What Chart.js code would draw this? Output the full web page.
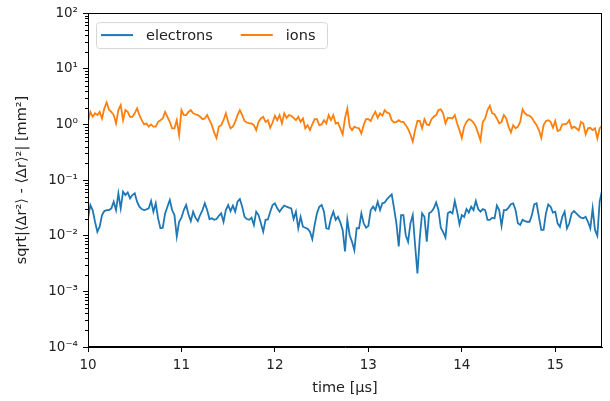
<!DOCTYPE html>
<html>
<head>
<meta charset="utf-8">
<script src="https://cdn.jsdelivr.net/npm/chart.js@4"></script>
<style>
  html, body { margin: 0; padding: 0; background: #fff; }
  #wrap { width: 610px; height: 401px; }
</style>
</head>
<body>
<div id="wrap"><canvas id="grafico" width="610" height="401"></canvas></div>
<script>
// Amostragem no tempo (µs)
const tInicio = 10;
const dt = 0.025;

// Séries
const electrons = [
  0.0205, 0.0356, 0.0289, 0.0178, 0.0118, 0.0145, 0.0235, 0.0277, 0.0289, 0.0289, 0.0310, 0.0408, 0.0289,
  0.0577, 0.0310, 0.0617, 0.0538, 0.0601, 0.0469, 0.0538, 0.0577, 0.0408, 0.0332, 0.0301, 0.0289, 0.0298,
  0.0310, 0.0420, 0.0270, 0.0382, 0.0205, 0.0136, 0.0139, 0.0252, 0.0332, 0.0438, 0.0289,
  0.0235, 0.0097, 0.0178, 0.0211, 0.0289, 0.0356, 0.0243, 0.0183, 0.0270, 0.0211, 0.0183, 0.0235, 0.0289,
  0.0382, 0.0289, 0.0199, 0.0205, 0.0193, 0.0199, 0.0228, 0.0252, 0.0178, 0.0289, 0.0356, 0.0277, 0.0348,
  0.0270, 0.0408, 0.0455, 0.0332, 0.0218, 0.0199, 0.0193, 0.0211, 0.0156, 0.0270, 0.0235,
  0.0167, 0.0118, 0.0193, 0.0196, 0.0270, 0.0356, 0.0382, 0.0310, 0.0270, 0.0310, 0.0348, 0.0332, 0.0320,
  0.0310, 0.0199, 0.0270, 0.0136, 0.0218, 0.0145, 0.0139, 0.0133, 0.0118, 0.0087, 0.0156, 0.0252, 0.0332,
  0.0356, 0.0270, 0.0136, 0.0133, 0.0205, 0.0270, 0.0193, 0.0218, 0.0173, 0.0127, 0.0052,
  0.0193, 0.0102, 0.0078, 0.0055, 0.0136, 0.0136, 0.0252, 0.0167, 0.0139, 0.0150, 0.0289, 0.0332, 0.0289,
  0.0408, 0.0289, 0.0382, 0.0395, 0.0455, 0.0503, 0.0554, 0.0310, 0.0167, 0.0064, 0.0235, 0.0235, 0.0102,
  0.0078, 0.0167, 0.0235, 0.0068, 0.0021, 0.0090, 0.0252, 0.0218, 0.0078, 0.0252, 0.0270,
  0.0310, 0.0395, 0.0289, 0.0139, 0.0116, 0.0093, 0.0252, 0.0270, 0.0252, 0.0420, 0.0270, 0.0160, 0.0235,
  0.0218, 0.0301, 0.0260, 0.0332, 0.0289, 0.0420, 0.0301, 0.0270, 0.0301, 0.0289, 0.0193, 0.0193, 0.0211,
  0.0205, 0.0348, 0.0289, 0.0150, 0.0289, 0.0289, 0.0320, 0.0368, 0.0382, 0.0289, 0.0167,
  0.0156, 0.0193, 0.0183, 0.0178, 0.0178, 0.0235, 0.0365, 0.0382, 0.0218, 0.0127, 0.0127, 0.0252, 0.0365,
  0.0332, 0.0260, 0.0270, 0.0167, 0.0145, 0.0218, 0.0270, 0.0136, 0.0167, 0.0252, 0.0277, 0.0252, 0.0228,
  0.0211, 0.0205, 0.0218, 0.0178, 0.0136, 0.0310, 0.0127, 0.0100, 0.0408, 0.0636
];

const ions = [
  1.11, 1.68, 1.37, 1.58, 1.47, 1.68, 1.28, 1.94, 2.48, 1.81, 1.68, 1.47, 1.04,
  1.81, 2.22, 1.19, 1.81, 1.68, 1.37, 1.37, 1.58, 1.94, 1.47, 1.19, 1.00, 1.04,
  0.91, 1.00, 0.91, 0.91, 1.11, 1.19, 1.28, 1.68, 1.37, 1.11, 0.85,
  0.85, 1.19, 0.64, 1.81, 1.47, 1.47, 1.68, 1.81, 1.58, 1.52, 1.47, 1.37, 1.24,
  1.28, 1.47, 1.19, 0.97, 0.72, 0.57, 0.91, 0.97, 1.19, 1.58, 1.11, 0.85, 0.91,
  1.11, 1.47, 1.81, 1.47, 1.15, 1.08, 1.04, 1.04, 0.97, 0.79, 1.11,
  1.28, 1.37, 1.11, 1.19, 0.87, 1.08, 1.43, 1.19, 1.47, 1.04, 1.58, 1.31, 1.47,
  1.43, 1.31, 1.19, 1.37, 1.11, 1.28, 0.85, 0.97, 0.79, 1.00, 1.24, 1.24, 0.97,
  1.00, 1.19, 1.04, 1.47, 1.19, 1.47, 1.04, 1.08, 0.85, 0.66, 1.30,
  1.94, 0.91, 0.79, 0.91, 0.87, 0.85, 0.69, 0.97, 1.24, 1.24, 1.15, 1.43, 1.68,
  1.31, 1.58, 1.43, 1.81, 1.63, 1.58, 1.19, 1.08, 1.11, 1.19, 1.11, 1.11, 0.97,
  0.83, 0.66, 0.49, 0.79, 1.15, 1.15, 0.85, 1.24, 1.00, 0.97, 1.24,
  1.37, 1.47, 1.81, 1.87, 1.58, 1.04, 1.31, 1.31, 1.28, 1.47, 1.04, 0.79, 0.57,
  0.91, 1.11, 1.24, 1.19, 1.08, 0.91, 0.69, 0.52, 1.11, 1.28, 1.81, 2.16, 1.58,
  1.52, 1.28, 1.04, 1.11, 1.47, 1.28, 0.91, 0.72, 0.97, 0.85, 0.91,
  1.11, 1.87, 1.58, 1.47, 1.43, 1.31, 1.11, 0.97, 0.79, 0.57, 0.97, 1.15, 1.19,
  1.11, 0.87, 1.15, 0.76, 0.79, 1.00, 1.00, 1.04, 1.19, 0.85, 0.91, 0.85, 0.78,
  1.11, 1.04, 0.66, 0.85, 0.87, 0.79, 0.85, 0.56, 0.85, 0.95
];

const xTicks = [10, 11, 12, 13, 14, 15];
const yDecadas = [-4, -3, -2, -1, 0, 1, 2];
const yLabels = ['10⁻⁴', '10⁻³', '10⁻²', '10⁻¹', '10⁰', '10¹', '10²'];

const tempos = electrons.map((_, i) => +(tInicio + i * dt).toFixed(3));
const pontos = serie => serie.map((v, i) => ({ x: tempos[i], y: v }));

const fonte = 'DejaVu Sans';

// Moldura completa + ticks menores + legenda dentro do gráfico
const extras = {
  id: 'extras',
  afterDraw(chart) {
    const { ctx, chartArea: a } = chart;
    const y = chart.scales.y;
    ctx.save();
    ctx.strokeStyle = '#000';
    ctx.lineWidth = 1;
    // ticks menores
    ctx.beginPath();
    for (let d = -4; d < 2; d++) {
      for (let m = 2; m <= 9; m++) {
        const py = Math.round(y.getPixelForValue(m * Math.pow(10, d))) + 0.5;
        ctx.moveTo(a.left - 3, py);
        ctx.lineTo(a.left, py);
      }
    }
    ctx.stroke();
    // moldura
    ctx.strokeRect(Math.round(a.left) + 0.5, Math.round(a.top) + 0.5,
                   Math.round(a.right - a.left) - 1, Math.round(a.bottom - a.top) - 1);

    // legenda
    const lx = a.left + 8, ly = a.top + 9, lw = 231, lh = 26;
    ctx.fillStyle = 'rgba(255,255,255,0.8)';
    ctx.strokeStyle = '#d6d6d6';
    ctx.beginPath();
    ctx.roundRect(lx + 0.5, ly + 0.5, lw, lh, 3);
    ctx.fill();
    ctx.stroke();
    ctx.font = '14.5px ' + fonte;
    ctx.textBaseline = 'middle';
    let cx = lx + 5;
    chart.data.datasets.forEach(ds => {
      ctx.strokeStyle = ds.borderColor;
      ctx.lineWidth = 2;
      ctx.beginPath();
      ctx.moveTo(cx, ly + lh / 2);
      ctx.lineTo(cx + 32, ly + lh / 2);
      ctx.stroke();
      ctx.fillStyle = '#222';
      ctx.fillText(ds.label, cx + 45, ly + lh / 2 + 1);
      cx += 45 + ctx.measureText(ds.label).width + 28;
    });
    ctx.restore();
  }
};

const ctx = document.getElementById('grafico').getContext('2d');
const grafico = new Chart(ctx, {
  type: 'line',
  data: {
    datasets: [
      { label: 'electrons', data: pontos(electrons), borderColor: '#1f77b4', borderWidth: 1.8, pointRadius: 0, tension: 0 },
      { label: 'ions', data: pontos(ions), borderColor: '#ff7f0e', borderWidth: 1.8, pointRadius: 0, tension: 0 }
    ]
  },
  options: {
    responsive: false,
    animation: false,
    layout: { padding: { top: 13, right: 8, left: 0, bottom: 0 } },
    plugins: {
      legend: { display: false },
      tooltip: { enabled: false }
    },
    scales: {
      x: {
        type: 'linear',
        min: 10,
        max: 15.5,
        afterBuildTicks: s => { s.ticks = xTicks.map(v => ({ value: v })); },
        afterFit: s => { s.height = 54; },
        ticks: { color: '#222', font: { family: fonte, size: 13.5 }, padding: 5, maxRotation: 0,
                 callback: v => String(v) },
        grid: { drawOnChartArea: false, tickLength: 5, tickColor: '#000' },
        border: { color: '#000' },
        title: { display: true, text: 'time [µs]', color: '#222', font: { family: fonte, size: 14.5 }, padding: { top: 0 } }
      },
      y: {
        type: 'logarithmic',
        min: 1e-4,
        max: 1e2,
        afterBuildTicks: s => { s.ticks = yDecadas.map(d => ({ value: Math.pow(10, d) })); },
        afterFit: s => { s.width = 88; },
        ticks: { color: '#222', font: { family: fonte, size: 13.5 }, padding: 5,
                 callback: (v, i) => yLabels[i] },
        grid: { drawOnChartArea: false, tickLength: 5, tickColor: '#000' },
        border: { color: '#000' },
        title: { display: true, text: 'sqrt|⟨Δr²⟩ - ⟨Δr⟩²| [mm²]', color: '#222', font: { family: fonte, size: 14.5 }, padding: { top: 14, bottom: 2 } }
      }
    }
  },
  plugins: [extras]
});
</script>
</body>
</html>
